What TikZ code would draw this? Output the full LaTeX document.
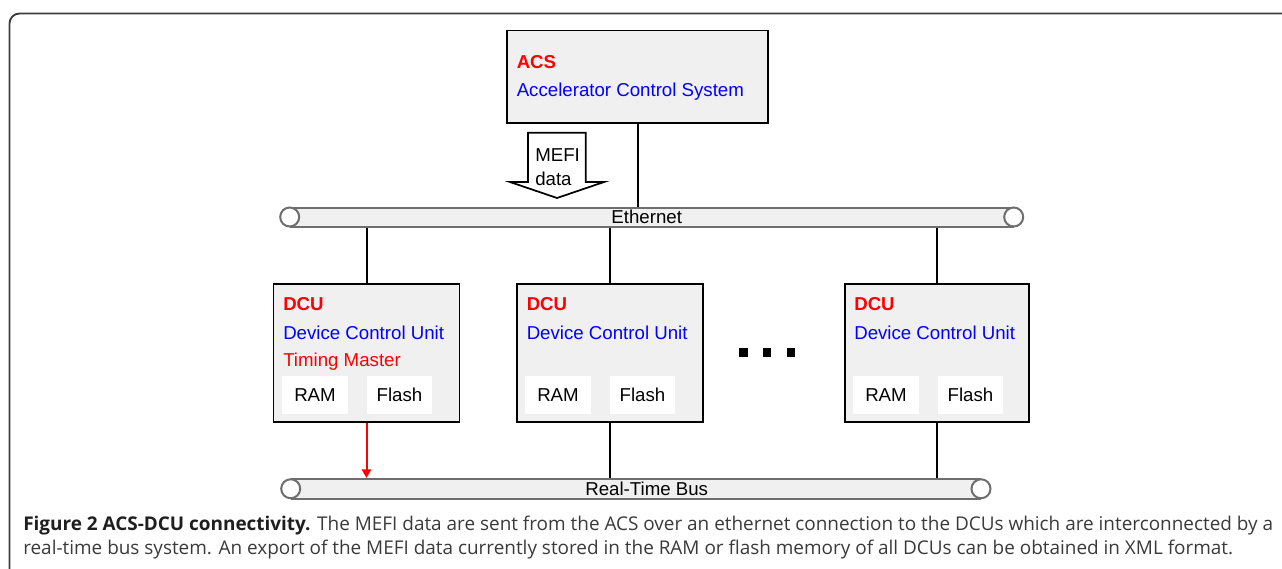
\documentclass[tikz,border=0pt]{standalone}
\usepackage{fontspec}
\setmainfont{Liberation Sans}
\newfontfamily\capfont{Open Sans}
\usetikzlibrary{arrows.meta,fit}
\definecolor{boxfill}{HTML}{F0F0F0}
\definecolor{busline}{HTML}{6E6E6E}
\definecolor{tred}{HTML}{FF0000}
\definecolor{tblue}{HTML}{0000FF}
\definecolor{framec}{HTML}{3C3C3C}
\definecolor{captext}{HTML}{3A3A3A}
\definecolor{capbold}{HTML}{1E1E1E}
\def\px{0.75pt}
\begin{document}
\begin{tikzpicture}[x=0.75pt,y=-0.75pt,
  unitbox/.style={draw=black, fill=boxfill, line width=1.4pt, inner sep=0pt},
  membox/.style={fill=white, inner sep=0pt},
  bus/.style={draw=busline, fill=boxfill, line width=1.5pt, inner sep=0pt},
  busend/.style={circle, draw=busline, fill=white, line width=1.5pt, inner sep=0pt, minimum size=19*\px},
  lbl/.style={font=\fontsize{14}{17}\selectfont, inner sep=0pt, anchor=base west},
  unittitle/.style={lbl, font=\fontsize{14}{17}\selectfont\bfseries, text=tred},
  desc/.style={lbl, text=tblue},
  memtxt/.style={font=\fontsize{14}{17}\selectfont, inner sep=0pt, anchor=base},
  link/.style={line width=1.5pt, draw=black},
  dotsq/.style={fill=black},
  capt/.style={font=\capfont\fontsize{14.2}{16}\selectfont, text=captext, inner sep=0pt, anchor=base west},
]
\useasboundingbox (0,0) rectangle (1282,568);
\clip (0,0) rectangle (1282,568);
% outer frame
\draw[framec, line width=1.4pt, rounded corners=7.5pt] (9.5,580) -- (9.5,13.5) -- (1300,13.5);

% ACS
\node[unitbox, fit={(507,30.5) (768,123)}] (acs) {};
\node[unittitle] (acsT) at (516.5,68.3) {ACS};
\node[desc] (acsD) at (516.5,96) {Accelerator Control System};

% MEFI data arrow
\draw[fill=white, line width=1.3pt, line join=miter] (528,132.7) -- (585.7,132.7) -- (585.7,182) -- (604,182) -- (557,198) -- (510,182) -- (528,182) -- cycle;
\node[lbl] (mefi1) at (535,161) {MEFI};
\node[lbl] (mefi2) at (535,185) {data};

% Ethernet bus
\node[bus, fit={(290.7,207.5) (1012.7,226.5)}] (eth) {};
\node[busend] (ethL) at (eth.west) {};
\node[busend] (ethR) at (eth.east) {};
\node[memtxt] (ethT) at (646.7,223.3) {Ethernet};

% Real-time bus
\node[bus, fit={(291.7,479) (980,498.5)}] (rtb) {};
\node[busend] (rtbL) at (rtb.west) {};
\node[busend] (rtbR) at (rtb.east) {};
\node[memtxt] (rtbT) at (646.7,495) {Real-Time Bus};

% DCU 1
\node[unitbox, fit={(273.5,284) (459.5,422)}] (dcu1) {};
\node[unittitle] (dcu1T) at (283,310.7) {DCU};
\node[desc] (dcu1D) at (283,339) {Device Control Unit};
\node[lbl, text=tred] (dcu1M) at (283,366.7) {Timing Master};
\node[membox, fit={(282,376) (348,414)}] (ram1) {};
\node[membox, fit={(367,376) (432,414)}] (fl1) {};
\node[memtxt] at (ram1.center |- 0,401.7) {RAM};
\node[memtxt] at (fl1.center |- 0,401.7) {Flash};

% DCU 2
\node[unitbox, fit={(517,284) (703,422)}] (dcu2) {};
\node[unittitle] (dcu2T) at (526.5,310.7) {DCU};
\node[desc] (dcu2D) at (526.5,339) {Device Control Unit};
\node[membox, fit={(525,376) (591,414)}] (ram2) {};
\node[membox, fit={(610,376) (675,414)}] (fl2) {};
\node[memtxt] at (ram2.center |- 0,401.7) {RAM};
\node[memtxt] at (fl2.center |- 0,401.7) {Flash};

% DCU 3
\node[unitbox, fit={(845,284) (1029,422)}] (dcu3) {};
\node[unittitle] (dcu3T) at (854,310.7) {DCU};
\node[desc] (dcu3D) at (854,339) {Device Control Unit};
\node[membox, fit={(853,376) (919,414)}] (ram3) {};
\node[membox, fit={(938,376) (1003,414)}] (fl3) {};
\node[memtxt] at (ram3.center |- 0,401.7) {RAM};
\node[memtxt] at (fl3.center |- 0,401.7) {Flash};

% ellipsis squares
\fill[dotsq] (739.3,348.3) rectangle (747.7,356.7);
\fill[dotsq] (762.5,348.3) rectangle (770.9,356.7);
\fill[dotsq] (786.7,348.3) rectangle (795.1,356.7);

% connectors
\draw[link] (acs.south) -- (acs.south |- eth.north);
\draw[link] (dcu1.north) -- (dcu1.north |- eth.south);
\draw[link] (dcu2.north) -- (dcu2.north |- eth.south);
\draw[link] (dcu3.north) -- (dcu3.north |- eth.south);
\draw[link, draw=tred, -{Triangle[length=6.5pt,width=7pt]}] (dcu1.south) -- (dcu1.south |- rtb.north);
\draw[link] (dcu2.south) -- (dcu2.south |- rtb.north);
\draw[link] (dcu3.south) -- (dcu3.south |- rtb.north);

% caption
\node[capt] (cap1) at (23,530) {{\bfseries\color{capbold}Figure 2 ACS-DCU connectivity.} The MEFI data are sent from the ACS over an ethernet connection to the DCUs which are interconnected by a};
\node[capt] (cap2) at (23,554.5) {real-time bus system. An export of the MEFI data currently stored in the RAM or flash memory of all DCUs can be obtained in XML format.};
\end{tikzpicture}
\end{document}
